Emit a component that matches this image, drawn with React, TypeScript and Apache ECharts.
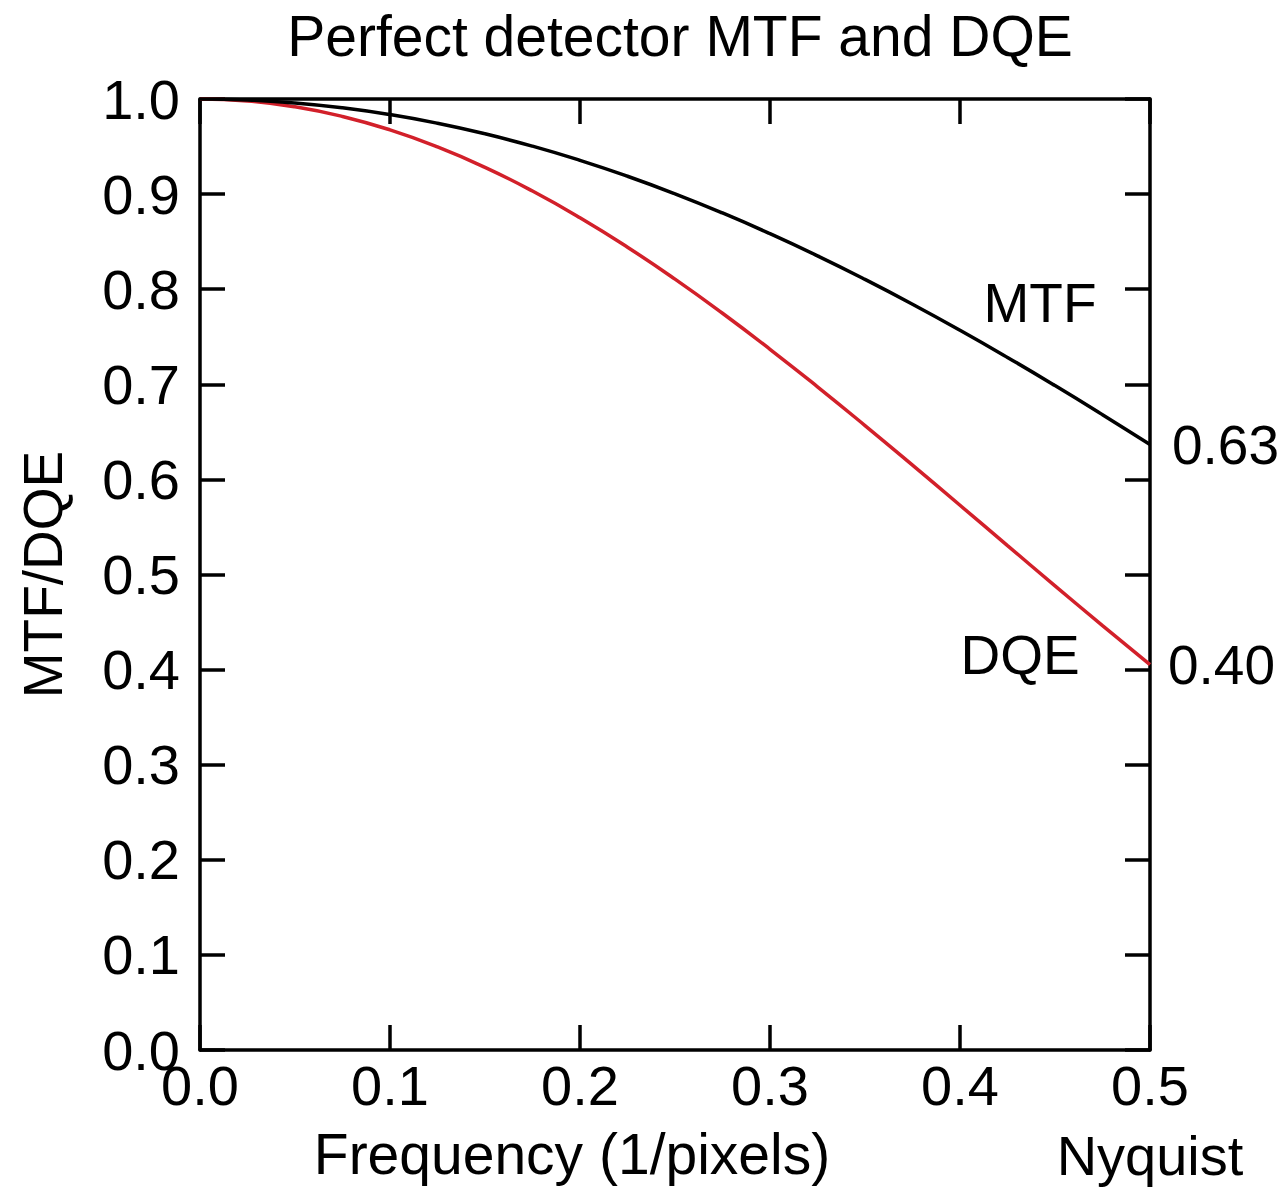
import React, { useEffect, useRef } from "react";
import * as echarts from "echarts";

const frequency = [0, 0.025, 0.05, 0.075, 0.1, 0.125, 0.15, 0.175, 0.2, 0.225, 0.25, 0.275, 0.3, 0.325, 0.35, 0.375, 0.4, 0.425, 0.45, 0.475, 0.5];
const mtfValues = [1, 0.99897, 0.99589, 0.99077, 0.98363, 0.9745, 0.9634, 0.95038, 0.93549, 0.91878, 0.90032, 0.88016, 0.85839, 0.83508, 0.81033, 0.78422, 0.75683, 0.72827, 0.69865, 0.66806, 0.63662];
const dqeValues = [1, 0.99794, 0.9918, 0.98163, 0.96753, 0.94965, 0.92814, 0.90322, 0.87514, 0.84416, 0.81058, 0.77468, 0.73683, 0.69736, 0.65663, 0.615, 0.57279, 0.53038, 0.48811, 0.4463, 0.40529];
const mtfLabelPos = [0.4421, 0.785];
const dqeLabelPos = [0.4316, 0.4153];

const FONT = "'Liberation Sans', Arial, Helvetica, sans-serif";
const FS = 55;

export default function App() {
  const ref = useRef<HTMLDivElement>(null);
  useEffect(() => {
    if (!ref.current) return;
    const chart = echarts.init(ref.current, undefined, { renderer: "svg" });
    const tickStyle = { show: true, inside: true, length: 25, lineStyle: { color: "#000", width: 3.5 } };
    const axisLine = { show: true, onZero: false, lineStyle: { color: "#000", width: 3.5 } };
    const trunc2 = (v: number) => (Math.floor(v * 100) / 100).toFixed(2);
    chart.setOption({
      animation: false,
      backgroundColor: "#fff",
      textStyle: { fontFamily: FONT },
      title: {
        text: "Perfect detector MTF and DQE",
        left: 675,
        textAlign: "center",
        top: 2,
        textStyle: { fontFamily: FONT, fontSize: 57, fontWeight: "normal", color: "#000" },
      },
      grid: { left: 200, right: 137, top: 99, bottom: 138, outerBoundsMode: "none", containLabel: false },
      xAxis: [
        {
          type: "value",
          min: 0,
          max: 0.5,
          interval: 0.1,
          axisLine,
          axisTick: tickStyle,
          splitLine: { show: false },
          axisLabel: {
            color: "#000",
            fontSize: 56,
            fontFamily: FONT,
            margin: 0,
            lineHeight: 70,
            formatter: (v: number) => (Math.abs(v - 0.5) < 1e-9 ? "0.5\nNyquist" : v.toFixed(1)),
          },
          name: "Frequency (1/pixels)",
          nameLocation: "middle",
          nameGap: 75,
          nameMoveOverlap: false,
          nameTextStyle: { color: "#000", fontSize: 57, fontFamily: FONT, padding: [0, 206, 0, 0] },
        },
        {
          type: "value",
          position: "top",
          min: 0,
          max: 0.5,
          interval: 0.1,
          axisLine,
          axisTick: tickStyle,
          axisLabel: { show: false },
          splitLine: { show: false },
        },
      ],
      yAxis: [
        {
          type: "value",
          min: 0,
          max: 1,
          interval: 0.1,
          axisLine,
          axisTick: tickStyle,
          splitLine: { show: false },
          axisLabel: { color: "#000", fontSize: 56, fontFamily: FONT, margin: 20, formatter: (v: number) => v.toFixed(1) },
          name: "MTF/DQE",
          nameLocation: "middle",
          nameGap: 130,
          nameMoveOverlap: false,
          nameTextStyle: { color: "#000", fontSize: FS, fontFamily: FONT },
        },
        {
          type: "value",
          position: "right",
          min: 0,
          max: 1,
          interval: 0.1,
          axisLine,
          axisTick: tickStyle,
          axisLabel: { show: false },
          splitLine: { show: false },
        },
      ],
      series: [
        {
          name: "MTF",
          type: "line",
          data: frequency.map((f, i) => [f, mtfValues[i]]),
          smooth: true,
          showSymbol: false,
          lineStyle: { color: "#000", width: 3.5 },
          itemStyle: { color: "#000" },
          endLabel: {
            show: true,
            distance: 22,
            color: "#000",
            fontSize: FS,
            fontFamily: FONT,
            formatter: (p: any) => trunc2(p.value[1]),
          },
          markPoint: {
            symbol: "circle",
            symbolSize: 0,
            label: { show: true, position: "inside", formatter: "MTF", color: "#000", fontSize: FS, fontFamily: FONT },
            data: [{ coord: mtfLabelPos }],
          },
          z: 3,
        },
        {
          name: "DQE",
          type: "line",
          data: frequency.map((f, i) => [f, dqeValues[i]]),
          smooth: true,
          showSymbol: false,
          lineStyle: { color: "#d2202a", width: 3.5 },
          itemStyle: { color: "#d2202a" },
          endLabel: {
            show: true,
            distance: 18,
            color: "#000",
            fontSize: FS,
            fontFamily: FONT,
            formatter: (p: any) => trunc2(p.value[1]),
          },
          markPoint: {
            symbol: "circle",
            symbolSize: 0,
            label: { show: true, position: "inside", formatter: "DQE", color: "#000", fontSize: FS, fontFamily: FONT },
            data: [{ coord: dqeLabelPos }],
          },
          z: 2,
        },
      ],
    });
    return () => chart.dispose();
  }, []);
  return <div ref={ref} style={{ position: "absolute", left: 0, top: 0, width: 1287, height: 1188 }} />;
}
